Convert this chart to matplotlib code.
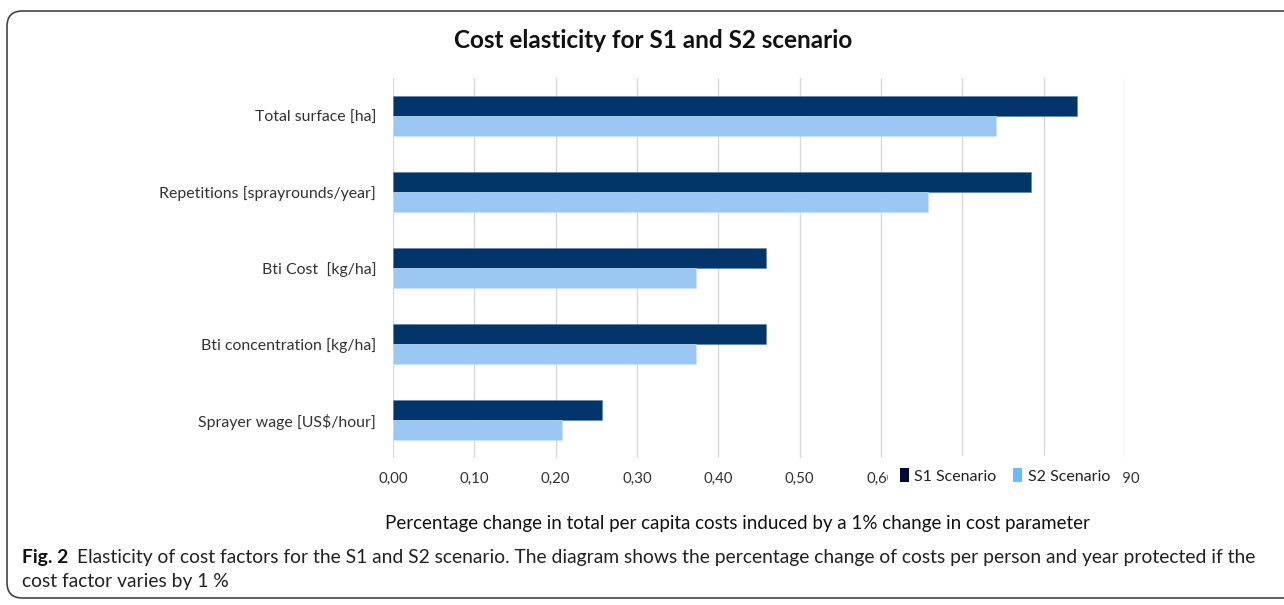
import matplotlib
matplotlib.use("Agg")
import matplotlib.pyplot as plt
import numpy as np
from matplotlib.patches import FancyBboxPatch, Patch
from matplotlib.ticker import FuncFormatter

categories = ["Total surface [ha]", "Repetitions [sprayrounds/year]", "Bti Cost  [kg/ha]",
              "Bti concentration [kg/ha]", "Sprayer wage [US$/hour]"]
s1_values = [0.841, 0.785, 0.459, 0.459, 0.257]
s2_values = [0.742, 0.658, 0.372, 0.372, 0.208]
series_names = ["S1 Scenario", "S2 Scenario"]
x_ticks = [0.0, 0.1, 0.2, 0.3, 0.4, 0.5, 0.6, 0.7, 0.8, 0.9]

title = "Cost elasticity for S1 and S2 scenario"
xlabel = "Percentage change in total per capita costs induced by a 1% change in cost parameter"
caption_bold = "Fig. 2"
caption_line1 = "Elasticity of cost factors for the S1 and S2 scenario. The diagram shows the percentage change of costs per person and year protected if the"
caption_line2 = "cost factor varies by 1 %"

dark = "#02366B"
light = "#9AC8F3"

plt.rcParams['font.family'] = ['Lato', 'DejaVu Sans']

fig = plt.figure(figsize=(12.84, 6.05), dpi=100)
ax = fig.add_axes([393/1284, 1-458/605, (1125-393)/1284, (458-78)/605])

y = np.arange(len(categories))[::-1]
h = 0.26
ax.barh(y + h/2, s1_values, height=h, color=dark, edgecolor="#5B7FA8", linewidth=0.4, zorder=3)
ax.barh(y - h/2, s2_values, height=h, color=light, edgecolor="#C9E0F8", linewidth=0.4, zorder=3)

ax.set_xlim(0, 0.9)
ax.set_ylim(-0.5, len(categories)-0.5)
ax.set_xticks(x_ticks)
ax.xaxis.set_major_formatter(FuncFormatter(lambda v, p: f"{v:.2f}".replace(".", ",")))
ax.set_yticks(y)
ax.set_yticklabels(categories, fontsize=11.4, color="#333333")
ax.tick_params(axis="x", labelsize=10.8, colors="#333333", length=0, pad=10)
ax.tick_params(axis="y", length=0, pad=12)
ax.grid(axis="x", color="#D9D9D9", linewidth=1, zorder=0)
for s in ax.spines.values():
    s.set_visible(False)

fig.text(653/1284, 1-40/605, title, ha="center", va="center", fontsize=17.5, fontweight="bold", color="#111111")
fig.text(737/1284, 1-524/605, xlabel, ha="center", va="center", fontsize=13.5, color="#111111")

handles = [Patch(facecolor="#000A33", edgecolor="none"), Patch(facecolor="#66BEFF", edgecolor="none")]
leg = fig.legend(handles, series_names, loc="center", bbox_to_anchor=(1005/1284, 1-476/605),
                 ncol=2, frameon=True, fontsize=11.5, handlelength=0.55, handleheight=1.0,
                 handletextpad=0.35, columnspacing=1.03, borderpad=0.75, borderaxespad=0)
leg.get_frame().set_edgecolor("white")
leg.get_frame().set_facecolor("white")
leg.get_frame().set_alpha(1)
leg.get_frame().set_boxstyle("square", pad=0)
leg.set_zorder(10)
for t in leg.get_texts():
    t.set_color("#222222")

cap_size = 13.9
t1 = fig.text(22/1284, 1-557/605, caption_bold, ha="left", va="center", fontsize=cap_size,
              fontweight="bold", color="#111111")
fig.canvas.draw()
bb = t1.get_window_extent()
fig.text((bb.x1 + 9)/1284, 1-557/605, caption_line1, ha="left", va="center", fontsize=cap_size,
         color="#222222")
fig.text(22/1284, 1-582/605, caption_line2, ha="left", va="center", fontsize=cap_size,
         color="#222222")

border = FancyBboxPatch((7/1284, 1-598/605), 1.2, (598-11)/605,
                        boxstyle="round,pad=0,rounding_size=0.012",
                        transform=fig.transFigure, facecolor="none", edgecolor="#444444",
                        linewidth=1.2, clip_on=False, mutation_aspect=1284/605)
fig.patches.append(border)

fig.savefig("out.png", dpi=100)
